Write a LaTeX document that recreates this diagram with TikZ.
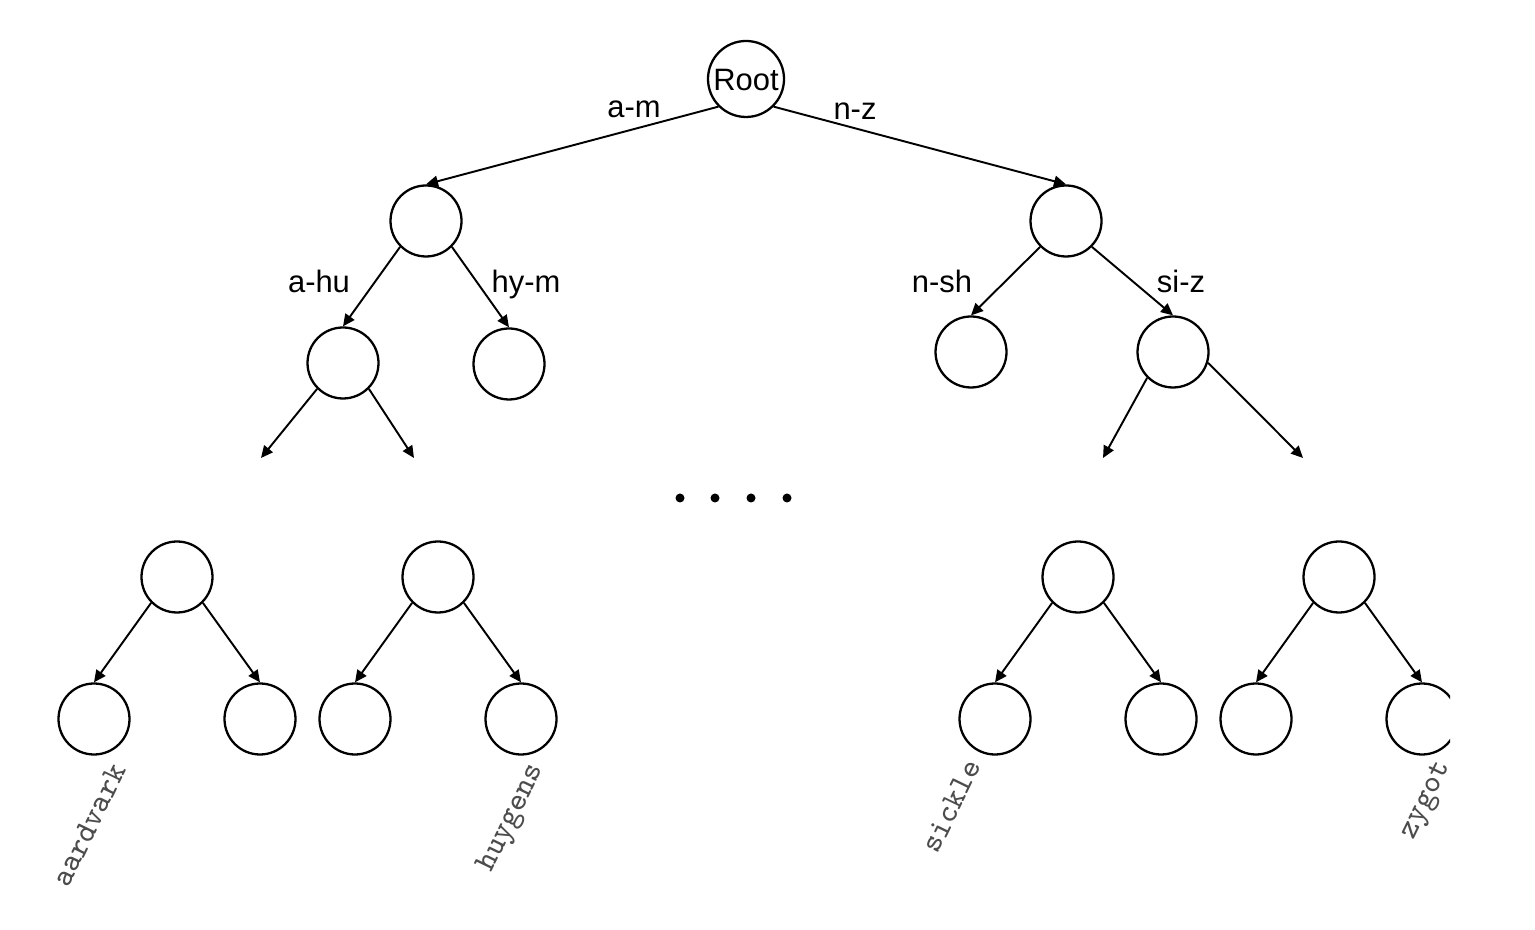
\documentclass[tikz,border=0pt]{standalone}
\usepackage{fontspec}
\setmainfont{Liberation Sans}
\usetikzlibrary{arrows.meta}

\tikzset{
  knot/.style={draw, circle, minimum size=7.1mm, inner sep=0pt, line width=0.65pt},
  edge/.style={line width=0.55pt, -{Triangle[length=1.2mm,width=1.1mm]}},
  lbl/.style={font=\fontsize{8.8}{10}\selectfont, text height=1.65ex, text depth=0.45ex},
  word/.style={font=\ttfamily\fontsize{9}{10}\selectfont, text=black!70, rotate=64}
}

\begin{document}
\begin{tikzpicture}[x=0.1mm, y=-0.1mm]
    \useasboundingbox (0,0) rectangle (1535,930);
    \begin{scope}
        \clip (0,0) rectangle (1450,930);

        % horní strom
        \node[knot, minimum size=7.2mm, lbl] (root) at (746,79) {Root};
        \node[knot] (am) at (426,221) {};
        \node[knot] (nz) at (1066,221) {};
        \node[knot] (ahu) at (343,363) {};
        \node[knot] (hym) at (509,364) {};
        \node[knot] (nsh) at (971,352) {};
        \node[knot] (siz) at (1173,352) {};

        \draw[edge] (root.south west) -- (am.north);
        \draw[edge] (root.south east) -- (nz.north);
        \draw[edge] (am.south west) -- (ahu.north);
        \draw[edge] (am.south east) -- (hym.north);
        \draw[edge] (nz.south west) -- (nsh.north);
        \draw[edge] (nz.south east) -- (siz.north);

        % popisky hran
        \node[lbl] (lam) at (634,106) {a-m};
        \node[lbl] (lnz) at (855,108) {n-z};
        \node[lbl] (lahu) at (319,281) {a-hu};
        \node[lbl] (lhym) at (526,281) {hy-m};
        \node[lbl] (lnsh) at (942,281) {n-sh};
        \node[lbl] (lsiz) at (1181,281) {si-z};

        % volné konce
        \coordinate (ahuL) at (261,458);
        \coordinate (ahuR) at (414,458);
        \coordinate (sizL) at (1103,458);
        \coordinate (sizR) at (1303,458);
        \draw[edge] (ahu.south west) -- (ahuL);
        \draw[edge] (ahu.south east) -- (ahuR);
        \draw[edge] (siz.south west) -- (sizL);
        \draw[edge] (siz.-17) -- (sizR);

        % tečky
        \foreach \x in {680,715,751,787}
            \fill (\x,498) circle (4.5);

        % spodní stromy
        \foreach \t/\x in {p/177, q/438, s/1078, z/1339} {
            \node[knot] (\t) at (\x,577) {};
            \node[knot] (\t-l) at (\x-83,719) {};
            \node[knot] (\t-r) at (\x+83,719) {};
            \draw[edge] (\t.south west) -- (\t-l.north);
            \draw[edge] (\t.south east) -- (\t-r.north);
        }

        % listy
        \node[word] (aardvark) at (89,825) {aardvark};
        \node[word] (huygens) at (512,818) {huygens};
        \node[word] (sickle) at (951,806) {sickle};
        \node[word] (zygot) at (1427,801) {zygot};
    \end{scope}
\end{tikzpicture}
\end{document}
